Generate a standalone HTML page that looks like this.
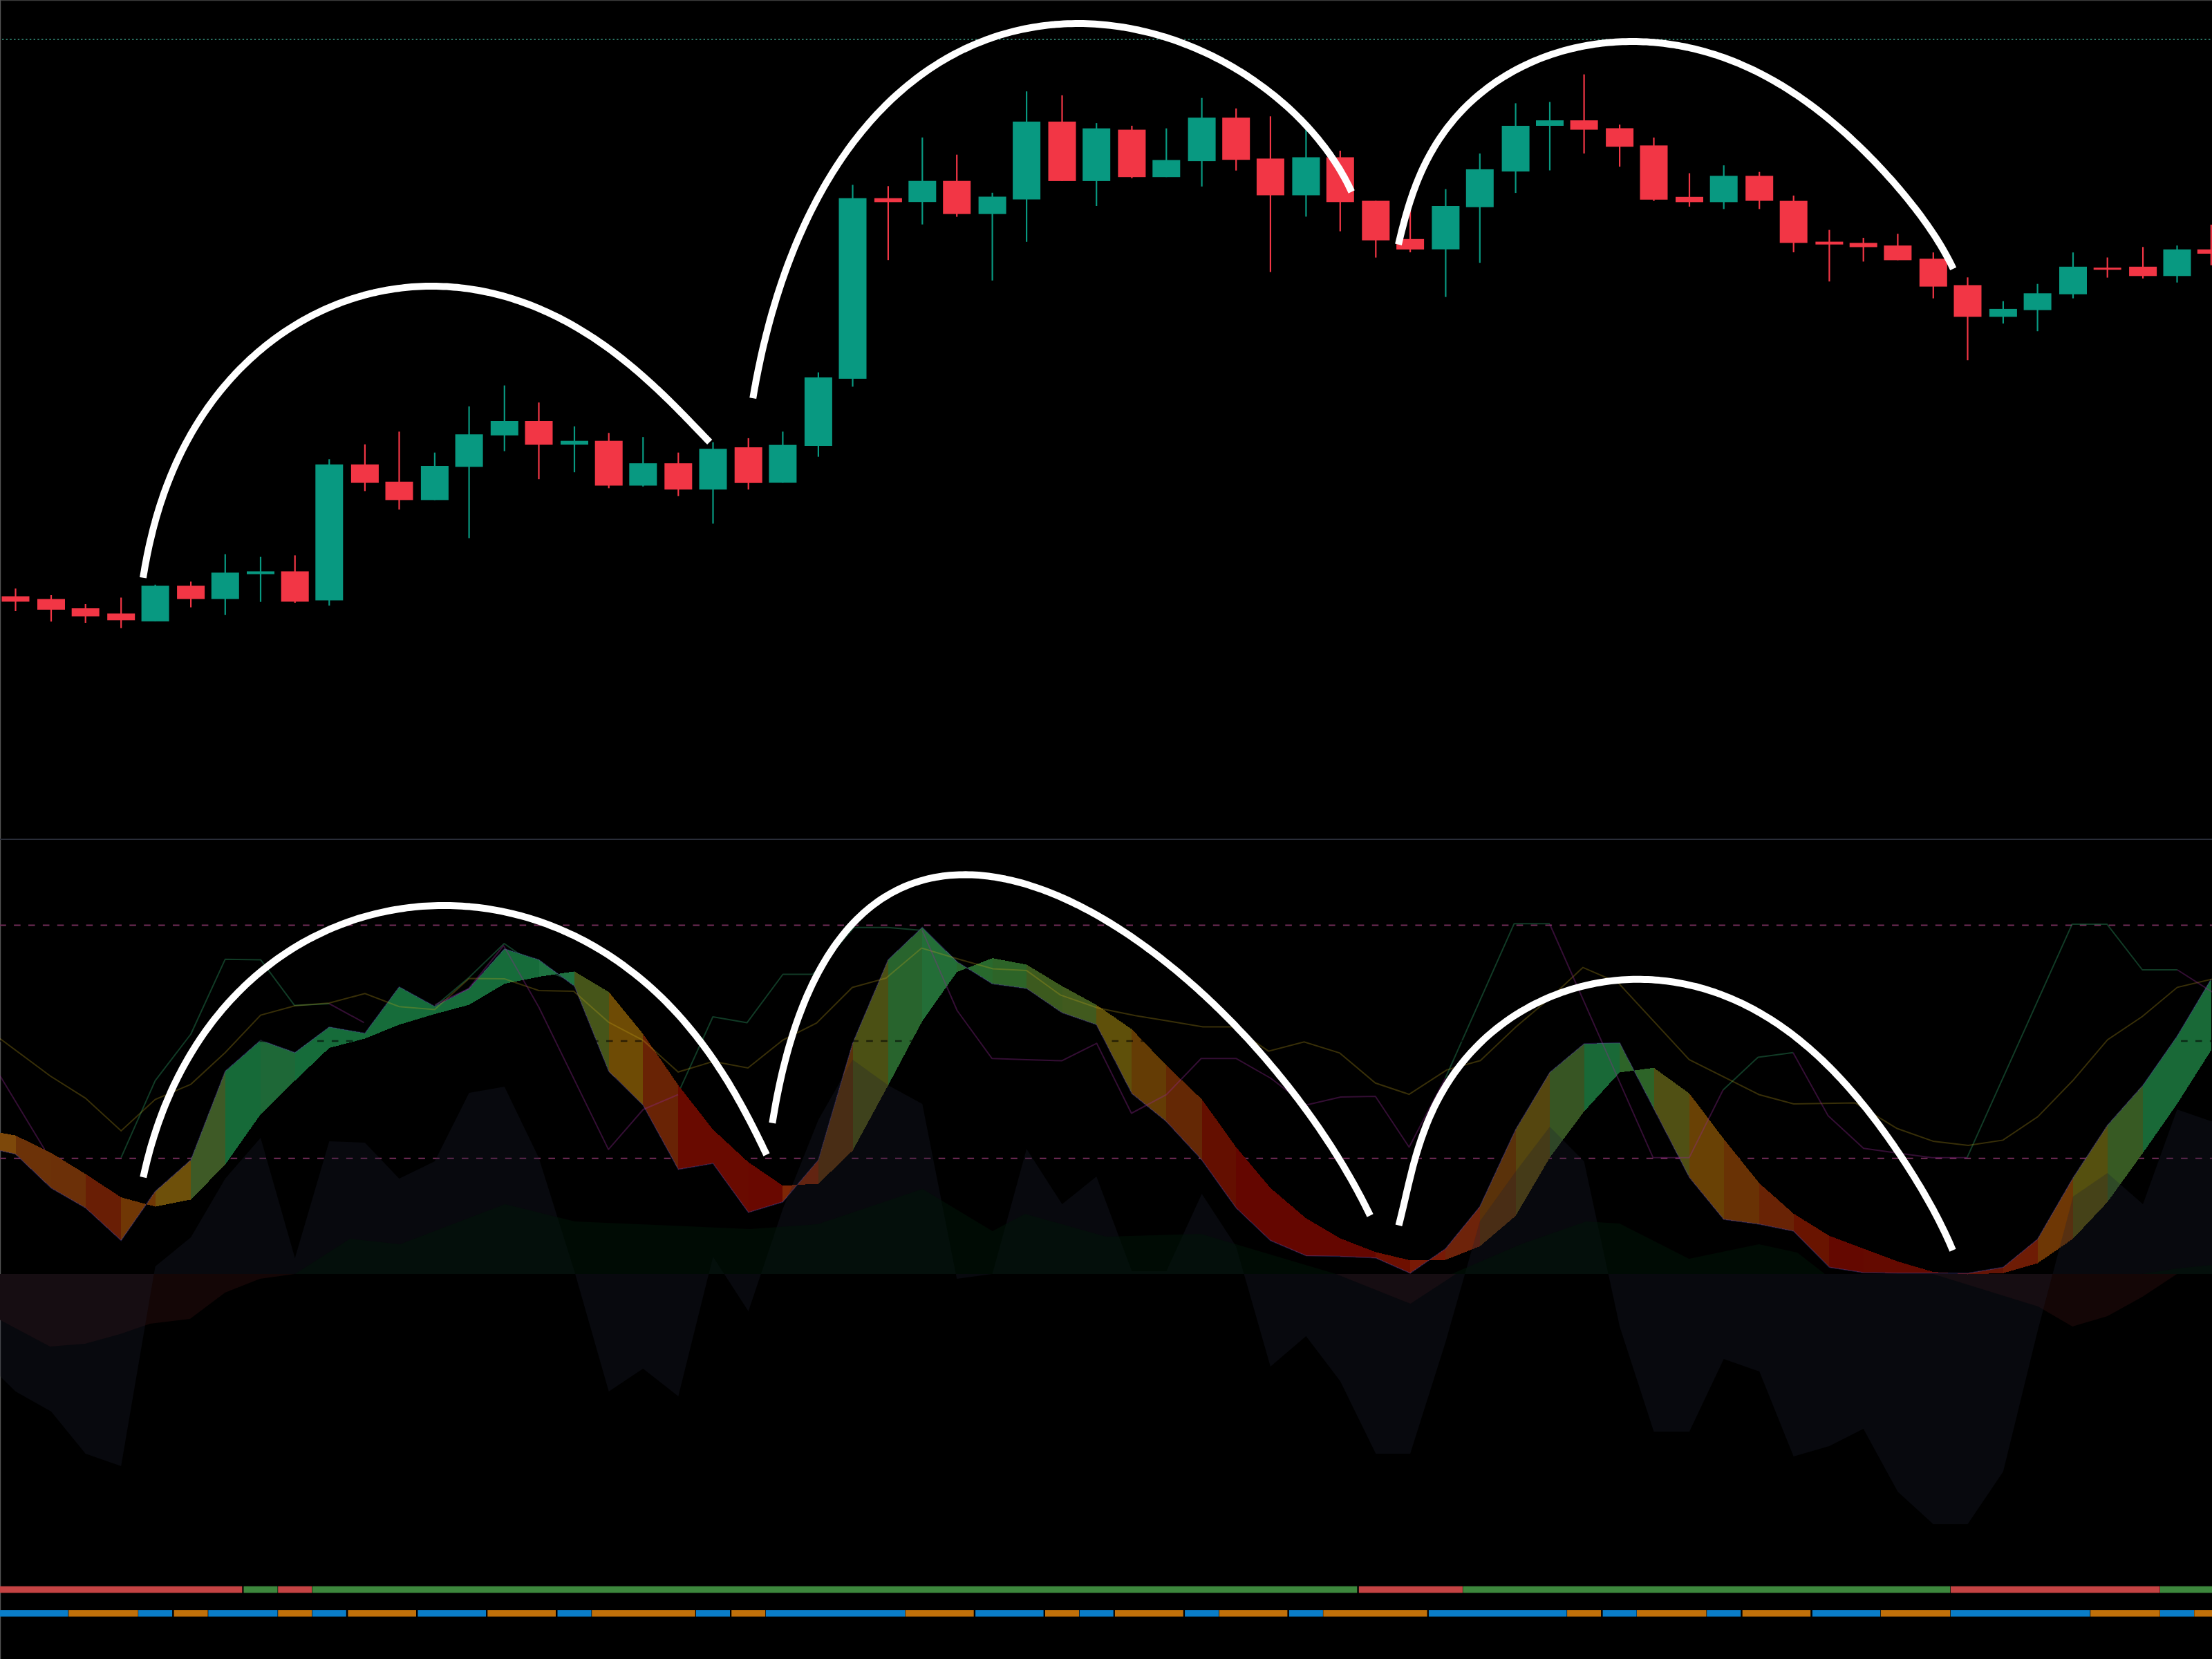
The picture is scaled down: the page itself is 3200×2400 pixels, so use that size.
<!DOCTYPE html>
<html><head><meta charset="utf-8"><title>Chart</title>
<style>html,body{margin:0;padding:0;background:#000;width:3200px;height:2400px;overflow:hidden}svg{display:block}</style>
</head><body>
<svg xmlns="http://www.w3.org/2000/svg" width="3200" height="2400" viewBox="0 0 3200 2400">
<rect width="3200" height="2400" fill="#000"/>
<rect x="0" y="0" width="3200" height="1.2" fill="#3c3c3c"/>
<rect x="0" y="0" width="1.2" height="2400" fill="#555"/>
<line x1="3" y1="57" x2="3200" y2="57" stroke="#2a7262" stroke-width="2.2" stroke-dasharray="2.4 3.3"/>
<g fill="#089981"><rect x="223.5" y="845.8" width="2.2" height="53.1"/><rect x="204.6" y="847.4" width="40" height="51.5"/><rect x="324.7" y="801.8" width="2.2" height="87.9"/><rect x="305.8" y="828.4" width="40" height="38.2"/><rect x="375.9" y="805.6" width="2.2" height="65.1"/><rect x="357" y="826.5" width="40" height="4.1"/><rect x="475.2" y="664.3" width="2.2" height="211.8"/><rect x="456.3" y="671.9" width="40" height="196.6"/><rect x="627.8" y="654.7" width="2.2" height="68.7"/><rect x="608.9" y="674" width="40" height="49.4"/><rect x="677.5" y="587.9" width="2.2" height="190.6"/><rect x="658.6" y="628.3" width="40" height="47.1"/><rect x="728.7" y="557.6" width="2.2" height="95.1"/><rect x="709.8" y="609" width="40" height="20.9"/><rect x="829.9" y="616.8" width="2.2" height="66.4"/><rect x="811" y="637.7" width="40" height="5.6"/><rect x="929.2" y="632.2" width="2.2" height="71.6"/><rect x="910.3" y="670.2" width="40" height="32.3"/><rect x="1030.4" y="639.8" width="2.2" height="117.7"/><rect x="1011.5" y="649.3" width="40" height="58.9"/><rect x="1131.3" y="624.4" width="2.2" height="74"/><rect x="1112.4" y="643.6" width="40" height="54.8"/><rect x="1182.8" y="538.7" width="2.2" height="122"/><rect x="1163.9" y="546" width="40" height="99"/><rect x="1232.4" y="267.4" width="2.2" height="292"/><rect x="1213.5" y="286.7" width="40" height="261.2"/><rect x="1333.2" y="198.9" width="2.2" height="125.8"/><rect x="1314.3" y="261.7" width="40" height="30.5"/><rect x="1434.5" y="278.8" width="2.2" height="127"/><rect x="1415.6" y="284.5" width="40" height="25.1"/><rect x="1484" y="132.2" width="2.2" height="217.6"/><rect x="1465.1" y="175.9" width="40" height="112.6"/><rect x="1585.1" y="178.1" width="2.2" height="119.9"/><rect x="1566.2" y="185.7" width="40" height="76.2"/><rect x="1686.2" y="185.7" width="2.2" height="70.5"/><rect x="1667.3" y="231.5" width="40" height="24.7"/><rect x="1737.5" y="141.7" width="2.2" height="128.1"/><rect x="1718.6" y="170.2" width="40" height="62.9"/><rect x="1888.3" y="187.6" width="2.2" height="125.8"/><rect x="1869.4" y="227.5" width="40" height="55"/><rect x="2090.3" y="273.6" width="2.2" height="156"/><rect x="2071.4" y="298" width="40" height="62.7"/><rect x="2139.7" y="222.1" width="2.2" height="158.1"/><rect x="2120.8" y="244.9" width="40" height="54.8"/><rect x="2191.5" y="149.4" width="2.2" height="129.7"/><rect x="2172.6" y="182" width="40" height="66.1"/><rect x="2240.9" y="147.5" width="2.2" height="99"/><rect x="2222" y="174.1" width="40" height="7.9"/><rect x="2492.6" y="239.2" width="2.2" height="63.2"/><rect x="2473.7" y="254.4" width="40" height="38"/><rect x="2896.8" y="435.7" width="2.2" height="32.3"/><rect x="2877.9" y="446.9" width="40" height="11.4"/><rect x="2946.5" y="410.7" width="2.2" height="68.5"/><rect x="2927.6" y="424.3" width="40" height="24.3"/><rect x="2997.9" y="365.2" width="2.2" height="66.4"/><rect x="2979" y="385.8" width="40" height="39.9"/><rect x="3148.4" y="355.2" width="2.2" height="53.5"/><rect x="3129.5" y="360.8" width="40" height="38.5"/></g>
<g fill="#F23645"><rect x="21.4" y="851.4" width="2.2" height="32.6"/><rect x="2.5" y="862.6" width="40" height="7.8"/><rect x="72.9" y="861" width="2.2" height="38.2"/><rect x="54" y="866.6" width="40" height="15.4"/><rect x="122.6" y="874" width="2.2" height="27"/><rect x="103.7" y="880" width="40" height="11.6"/><rect x="174.1" y="864.5" width="2.2" height="44.2"/><rect x="155.2" y="887.5" width="40" height="9.8"/><rect x="275" y="841.4" width="2.2" height="37.2"/><rect x="256.1" y="847.4" width="40" height="19.2"/><rect x="425.6" y="803.4" width="2.2" height="68.6"/><rect x="406.7" y="826.5" width="40" height="43.9"/><rect x="526.8" y="642.9" width="2.2" height="67.5"/><rect x="507.9" y="671.9" width="40" height="26.6"/><rect x="576.4" y="624.4" width="2.2" height="112.8"/><rect x="557.5" y="696.8" width="40" height="26.6"/><rect x="778.4" y="582.3" width="2.2" height="110.9"/><rect x="759.5" y="609" width="40" height="34.4"/><rect x="879.6" y="626.3" width="2.2" height="80"/><rect x="860.7" y="637.7" width="40" height="64.8"/><rect x="980.2" y="654.7" width="2.2" height="63"/><rect x="961.3" y="670.2" width="40" height="38"/><rect x="1081.6" y="633.9" width="2.2" height="74.3"/><rect x="1062.7" y="647.1" width="40" height="51.6"/><rect x="1283.8" y="269.3" width="2.2" height="106.9"/><rect x="1264.9" y="286.7" width="40" height="5.7"/><rect x="1383.1" y="223.7" width="2.2" height="89.9"/><rect x="1364.2" y="261.7" width="40" height="47.9"/><rect x="1535.4" y="137.9" width="2.2" height="124"/><rect x="1516.5" y="175.9" width="40" height="86"/><rect x="1636.3" y="181.9" width="2.2" height="75.9"/><rect x="1617.4" y="187.6" width="40" height="68.6"/><rect x="1787.1" y="156.9" width="2.2" height="89.8"/><rect x="1768.2" y="170.2" width="40" height="61"/><rect x="1836.8" y="168.3" width="2.2" height="225.2"/><rect x="1817.9" y="229.4" width="40" height="53.1"/><rect x="1937.7" y="218" width="2.2" height="116.6"/><rect x="1918.8" y="227.5" width="40" height="64.8"/><rect x="1989.2" y="290.5" width="2.2" height="82.1"/><rect x="1970.3" y="290.5" width="40" height="57.2"/><rect x="2039" y="304.5" width="2.2" height="60.5"/><rect x="2020.1" y="345.8" width="40" height="15.1"/><rect x="2290.5" y="107.6" width="2.2" height="114.5"/><rect x="2271.6" y="174.1" width="40" height="13.5"/><rect x="2342" y="180.3" width="2.2" height="60.8"/><rect x="2323.1" y="185.5" width="40" height="26.8"/><rect x="2391.4" y="199" width="2.2" height="91.7"/><rect x="2372.5" y="210.4" width="40" height="78.4"/><rect x="2442.9" y="250.6" width="2.2" height="48.3"/><rect x="2424" y="284.8" width="40" height="7.6"/><rect x="2544.1" y="248.7" width="2.2" height="53.7"/><rect x="2525.2" y="254.4" width="40" height="36.1"/><rect x="2593.6" y="282.9" width="2.2" height="82.1"/><rect x="2574.7" y="290.6" width="40" height="60.8"/><rect x="2645.3" y="332.6" width="2.2" height="74.6"/><rect x="2626.4" y="349.6" width="40" height="4.1"/><rect x="2694.6" y="344" width="2.2" height="34.4"/><rect x="2675.7" y="351.4" width="40" height="6.1"/><rect x="2744.3" y="338.2" width="2.2" height="38.2"/><rect x="2725.4" y="355.2" width="40" height="21.2"/><rect x="2795.7" y="365.2" width="2.2" height="66.4"/><rect x="2776.8" y="374.3" width="40" height="40.3"/><rect x="2845.4" y="401.3" width="2.2" height="119.9"/><rect x="2826.5" y="412.5" width="40" height="45.8"/><rect x="3047.6" y="372.5" width="2.2" height="29.1"/><rect x="3028.7" y="387.2" width="40" height="3"/><rect x="3099" y="357.3" width="2.2" height="45.5"/><rect x="3080.1" y="385.8" width="40" height="13.5"/><rect x="3197.7" y="325" width="2.2" height="58.7"/><rect x="3178.8" y="360.8" width="40" height="6.2"/></g>
<rect x="0" y="1213.4" width="3200" height="1.6" fill="#2a2e39"/>
<line x1="0" y1="1338.4" x2="3200" y2="1338.4" stroke="#722c58" stroke-width="2" stroke-dasharray="9.6 11.3" stroke-dashoffset="0.8"/>
<line x1="0" y1="1675.8" x2="3200" y2="1675.8" stroke="#722c58" stroke-width="2" stroke-dasharray="9.6 11.3" stroke-dashoffset="0.8"/>
<polygon points="0,1843 0,1909.5 72.3,1948 123,1944 173.6,1930 217,1915 274.9,1908 325.5,1870 376,1850 426.8,1843 426.8,1843" fill="#140606"/>
<polygon points="1932.7,1843 1932.7,1843 2040.5,1886 2106.3,1843 2106.3,1843" fill="#140606"/>
<polygon points="2796.4,1843 2796.4,1843 2948.3,1890 2998,1919 3048.8,1904 3099.4,1876 3149.4,1843 3149.4,1843" fill="#140606"/>
<polyline points="175.2,1674.7 224.5,1563.3 276.1,1496 325.7,1387.8 377,1388.4 426.2,1454.6 476.4,1452" fill="none" stroke="rgb(40,140,90)" stroke-opacity="0.42" stroke-width="2" stroke-linejoin="round"/>
<polyline points="628.9,1456 678.6,1414 729.4,1365 779.5,1400 829.9,1420 880.3,1500 930.7,1560 983.8,1575.4 1031.3,1471 1080.6,1479.6 1132.6,1409.5 1176,1409.5 1235.6,1341.7 1284.5,1341.7 1334,1346" fill="none" stroke="rgb(40,140,90)" stroke-opacity="0.42" stroke-width="2" stroke-linejoin="round"/>
<polyline points="2090.8,1560 2190.4,1336.3 2242,1336.3" fill="none" stroke="rgb(40,140,90)" stroke-opacity="0.42" stroke-width="2" stroke-linejoin="round"/>
<polyline points="2492.7,1576.8 2543.3,1529.5 2593.9,1522.8" fill="none" stroke="rgb(40,140,90)" stroke-opacity="0.42" stroke-width="2" stroke-linejoin="round"/>
<polyline points="2845.7,1674.7 2997.6,1337.1 3048.2,1337.1 3099.2,1403 3149.8,1403" fill="none" stroke="rgb(40,140,90)" stroke-opacity="0.42" stroke-width="2" stroke-linejoin="round"/>
<g shape-rendering="crispEdges"><polygon points="0,1664.5 22.5,1669.6 22.5,1642.6 0,1638.6" fill="rgb(125,72,10)"/><polygon points="22.5,1669.6 74,1718.6 74,1667.9 22.5,1642.6" fill="rgb(108,50,8)"/><polygon points="74,1718.6 123.7,1747.3 123.7,1698.3 74,1667.9" fill="rgb(108,48,8)"/><polygon points="123.7,1747.3 175.2,1794.5 175.2,1732.1 123.7,1698.3" fill="rgb(105,30,5)"/><polygon points="175.2,1794.5 224.6,1723.6 224.6,1745.6 175.2,1732.1" fill="rgb(112,55,5)"/><polygon points="224.6,1723.6 276.1,1678.1 276.1,1735.4 224.6,1745.6" fill="rgb(110,80,10)"/><polygon points="276.1,1678.1 325.8,1549.8 325.8,1684.8 276.1,1735.4" fill="rgb(62,90,38)"/><polygon points="325.8,1549.8 377,1504.9 377,1612 325.8,1684.8" fill="rgb(22,106,56)"/><polygon points="377,1504.9 426.7,1522.8 426.7,1563.3 377,1612" fill="rgb(30,104,55)"/><polygon points="426.7,1522.8 476.3,1485.7 476.3,1516 426.7,1563.3" fill="rgb(22,108,58)"/><polygon points="476.3,1485.7 527.9,1494.8 527.9,1502.5 476.3,1516" fill="rgb(22,108,58)"/><polygon points="527.9,1494.8 577.5,1427.6 577.5,1482.3 527.9,1502.5" fill="rgb(22,108,58)"/><polygon points="577.5,1427.6 628.9,1456 628.9,1467 577.5,1482.3" fill="rgb(22,108,58)"/><polygon points="628.9,1456 678.6,1430 678.6,1453.6 628.9,1467" fill="rgb(22,108,58)"/><polygon points="678.6,1430 729.8,1372.6 729.8,1423.2 678.6,1453.6" fill="rgb(22,108,58)"/><polygon points="729.8,1372.6 779.5,1388.4 779.5,1413.1 729.8,1423.2" fill="rgb(22,108,58)"/><polygon points="779.5,1388.4 831,1426.6 831,1405.3 779.5,1413.1" fill="rgb(30,115,65)"/><polygon points="831,1426.6 880.7,1549.8 880.7,1435 831,1405.3" fill="rgb(70,85,25)"/><polygon points="880.7,1549.8 930.3,1598.7 930.3,1495.8 880.7,1435" fill="rgb(110,75,5)"/><polygon points="930.3,1598.7 981.3,1691.6 981.3,1570 930.3,1495.8" fill="rgb(105,35,5)"/><polygon points="981.3,1691.6 1031.5,1683.1 1031.5,1634.2 981.3,1570" fill="rgb(105,10,0)"/><polygon points="1031.5,1683.1 1082.7,1754 1082.7,1681.4 1031.5,1634.2" fill="rgb(105,10,0)"/><polygon points="1082.7,1754 1132.4,1738.8 1132.4,1715.2 1082.7,1681.4" fill="rgb(105,8,0)"/><polygon points="1132.4,1738.8 1183.9,1678 1183.9,1712.5 1132.4,1715.2" fill="rgb(125,38,5)"/><polygon points="1183.9,1678 1233.5,1509.3 1233.5,1664.6 1183.9,1712.5" fill="rgb(90,50,10)"/><polygon points="1233.5,1509.3 1284.9,1388.4 1284.9,1570 1233.5,1664.6" fill="rgb(75,80,20)"/><polygon points="1284.9,1388.4 1334.3,1341.5 1334.3,1477.2 1284.9,1570" fill="rgb(40,100,45)"/><polygon points="1334.3,1341.5 1384.2,1391.1 1384.2,1406.3 1334.3,1477.2" fill="rgb(35,110,55)"/><polygon points="1384.2,1391.1 1435.6,1423.2 1435.6,1386.1 1384.2,1406.3" fill="rgb(40,105,45)"/><polygon points="1435.6,1423.2 1485.1,1430 1485.1,1395.5 1435.6,1386.1" fill="rgb(45,100,40)"/><polygon points="1485.1,1430 1536.5,1465 1536.5,1426.6 1485.1,1395.5" fill="rgb(60,90,30)"/><polygon points="1536.5,1465 1586.2,1482.3 1586.2,1453.6 1536.5,1426.6" fill="rgb(65,90,30)"/><polygon points="1586.2,1482.3 1637.4,1581.9 1637.4,1489 1586.2,1453.6" fill="rgb(95,80,10)"/><polygon points="1637.4,1581.9 1687.3,1622.4 1687.3,1541.3 1637.4,1489" fill="rgb(100,60,5)"/><polygon points="1687.3,1622.4 1738.6,1678 1738.6,1590.3 1687.3,1541.3" fill="rgb(100,40,5)"/><polygon points="1738.6,1678 1788.2,1747.3 1788.2,1659.5 1738.6,1590.3" fill="rgb(100,15,0)"/><polygon points="1788.2,1747.3 1837.9,1794.5 1837.9,1718.6 1788.2,1659.5" fill="rgb(100,6,0)"/><polygon points="1837.9,1794.5 1889.4,1816.5 1889.4,1762.4 1837.9,1718.6" fill="rgb(100,6,0)"/><polygon points="1889.4,1816.5 1938.8,1817.5 1938.8,1791.5 1889.4,1762.4" fill="rgb(100,6,0)"/><polygon points="1938.8,1817.5 1990.3,1819.8 1990.3,1811.4 1938.8,1791.5" fill="rgb(100,6,0)"/><polygon points="1990.3,1819.8 2040.1,1841.8 2040.1,1823.2 1990.3,1811.4" fill="rgb(110,15,0)"/><polygon points="2040.1,1841.8 2091.4,1806.3 2091.4,1822.5 2040.1,1823.2" fill="rgb(120,25,5)"/><polygon points="2091.4,1806.3 2140.8,1745.6 2140.8,1803 2091.4,1822.5" fill="rgb(110,35,10)"/><polygon points="2140.8,1745.6 2192.6,1634.2 2192.6,1759 2140.8,1803" fill="rgb(90,50,10)"/><polygon points="2192.6,1634.2 2242,1551.5 2242,1674.7 2192.6,1759" fill="rgb(85,70,15)"/><polygon points="2242,1551.5 2291.6,1510 2291.6,1608 2242,1674.7" fill="rgb(55,85,35)"/><polygon points="2291.6,1510 2343.1,1508.6 2343.1,1551.5 2291.6,1608" fill="rgb(25,105,55)"/><polygon points="2343.1,1508.6 2392.5,1603.8 2392.5,1544.7 2343.1,1551.5" fill="rgb(45,100,40)"/><polygon points="2392.5,1603.8 2444,1703.4 2444,1581.9 2392.5,1544.7" fill="rgb(80,80,20)"/><polygon points="2444,1703.4 2493.7,1764.1 2493.7,1647.7 2444,1581.9" fill="rgb(105,65,5)"/><polygon points="2493.7,1764.1 2545.2,1770.9 2545.2,1711.8 2493.7,1647.7" fill="rgb(105,50,5)"/><polygon points="2545.2,1770.9 2594.7,1781 2594.7,1755.7 2545.2,1711.8" fill="rgb(105,35,5)"/><polygon points="2594.7,1781 2646.4,1833.3 2646.4,1787.8 2594.7,1755.7" fill="rgb(105,20,0)"/><polygon points="2646.4,1833.3 2695.7,1841 2695.7,1806.3 2646.4,1787.8" fill="rgb(100,8,0)"/><polygon points="2695.7,1841 2745.4,1841.8 2745.4,1824.9 2695.7,1806.3" fill="rgb(100,10,0)"/><polygon points="2745.4,1841.8 2796.8,1841.8 2796.8,1840 2745.4,1824.9" fill="rgb(100,10,0)"/><polygon points="2796.8,1841.8 2846.5,1842 2846.5,1843.5 2796.8,1840" fill="rgb(100,10,0)"/><polygon points="2846.5,1842 2897.9,1833.3 2897.9,1841.8 2846.5,1843.5" fill="rgb(100,20,5)"/><polygon points="2897.9,1833.3 2947.6,1792.8 2947.6,1827.5 2897.9,1841.8" fill="rgb(110,28,5)"/><polygon points="2947.6,1792.8 2999,1704 2999,1792 2947.6,1827.5" fill="rgb(110,55,5)"/><polygon points="2999,1704 3048.7,1628 3048.7,1739 2999,1792" fill="rgb(85,80,15)"/><polygon points="3048.7,1628 3100.1,1570 3100.1,1667.9 3048.7,1739" fill="rgb(55,90,35)"/><polygon points="3100.1,1570 3149.5,1499.2 3149.5,1597 3100.1,1667.9" fill="rgb(25,105,55)"/><polygon points="3149.5,1499.2 3198.8,1416.5 3198.8,1519.4 3149.5,1597" fill="rgb(25,105,55)"/></g>
<polyline points="0,1664.5 22.5,1669.6 74,1718.6 123.7,1747.3 175.2,1794.5 224.6,1723.6 276.1,1678.1 325.8,1549.8 377,1504.9 426.7,1522.8 476.3,1485.7 527.9,1494.8 577.5,1427.6 628.9,1456 678.6,1430 729.8,1372.6 779.5,1388.4 831,1426.6 880.7,1549.8 930.3,1598.7 981.3,1691.6 1031.5,1683.1 1082.7,1754 1132.4,1738.8 1183.9,1678 1233.5,1509.3 1284.9,1388.4 1334.3,1341.5 1384.2,1391.1 1435.6,1423.2 1485.1,1430 1536.5,1465 1586.2,1482.3 1637.4,1581.9 1687.3,1622.4 1738.6,1678 1788.2,1747.3 1837.9,1794.5 1889.4,1816.5 1938.8,1817.5 1990.3,1819.8 2040.1,1841.8 2091.4,1806.3 2140.8,1745.6 2192.6,1634.2 2242,1551.5 2291.6,1510 2343.1,1508.6 2392.5,1603.8 2444,1703.4 2493.7,1764.1 2545.2,1770.9 2594.7,1781 2646.4,1833.3 2695.7,1841 2745.4,1841.8 2796.8,1841.8 2846.5,1842 2897.9,1833.3 2947.6,1792.8 2999,1704 3048.7,1628 3100.1,1570 3149.5,1499.2 3198.8,1416.5" fill="none" stroke="rgb(80,70,160)" stroke-opacity="0.4" stroke-width="1.5"/>
<polygon points="0,1843 0,1991 22.5,2013 74,2042 123.7,2103 175.2,2121 224.6,1832 276.1,1790 325.8,1705 377,1646 426.7,1820 476.3,1651 527.9,1653 577.5,1705 628.9,1680 678.6,1581 729.8,1572 779.5,1675 831,1839 880.7,2013 930.3,1980 981.3,2020 1031.5,1818 1082.7,1897 1132.4,1749 1183.9,1620 1233.5,1533 1284.9,1570 1334.3,1597 1384.2,1850 1435.6,1843 1485.1,1662 1536.5,1742 1586.2,1702 1637.4,1839 1687.3,1839 1738.6,1727 1788.2,1803 1837.9,1977 1889.4,1933 1938.8,1998 1990.3,2103 2040.1,2103 2091.4,1941 2140.8,1767 2192.6,1695 2242,1630 2291.6,1680 2343.1,1919 2392.5,2071 2444,2071 2493.7,1966 2545.2,1984 2594.7,2107 2646.4,2092 2695.7,2067 2745.4,2158 2796.8,2205 2846.5,2205 2897.9,2129 2947.6,1926 2999,1731 3048.7,1697 3100.1,1742 3149.5,1605 3198.8,1622 3200,1622 3200,1843" fill="rgb(30,33,50)" fill-opacity="0.28"/>
<polygon points="426.8,1843 426.8,1843 506.3,1792 578.7,1800 730.6,1742 831.8,1767 1085,1778 1182.7,1771 1334.6,1720 1435.8,1781 1482.8,1756 1600,1789 1737.4,1785 1788,1800 1932.7,1843 1932.7,1843" fill="rgb(0,22,8)" fill-opacity="0.5"/>
<polygon points="2100,1843 2100,1843 2200,1800 2294.4,1767 2343,1770 2443.4,1821 2544.7,1800 2600,1812 2640,1843 2640,1843" fill="rgb(0,22,8)" fill-opacity="0.5"/>
<polygon points="3099,1843 3099,1843 3150,1835 3200,1830 3200,1843" fill="rgb(0,22,8)" fill-opacity="0.5"/>
<line x1="0" y1="1506" x2="3200" y2="1506" stroke="#000" stroke-opacity="0.6" stroke-width="2.3" stroke-dasharray="9.6 11.3" stroke-dashoffset="0.8"/>
<polyline points="0,1502.5 72.6,1556.5 123.5,1588.6 175.2,1636 224.5,1590.5 276.1,1568.6 325.8,1522.7 377,1468.6 426.7,1455 476.4,1451 527.9,1437.3 577.5,1456.3 628.9,1460.4 678.6,1415.6 729.8,1416 779.5,1433 829.9,1434 880.2,1478.6 930.5,1505.2 981.1,1550.8 1031.7,1535.6 1082,1545 1132.6,1504.5 1181.4,1480 1233,1428.5 1281.7,1415 1333.3,1371.5 1387.5,1387.8 1436.4,1401.4 1485.2,1404.1 1534,1439.4 1588.3,1458.3 1642.5,1469.2 1691.3,1477.3 1740.2,1485.5 1783.6,1485.5 1835.1,1520.7 1886.6,1507.2 1938.2,1523.4 1989.7,1566.8 2038.5,1583.1 2092.8,1547.9 2141.6,1534.3 2193.1,1485.5 2244.5,1442 2290,1399.6 2340.8,1421.5 2443.7,1532.9 2544.6,1583.5 2594.9,1597 2683.6,1595.4 2744.4,1632.5 2796.7,1651 2847.3,1657.1 2897.6,1649.4 2947.9,1615.6 2998.6,1563.3 3048.9,1504.2 3099.2,1470.5 3149.8,1428.3 3200,1416.5" fill="none" stroke="rgb(200,170,30)" stroke-opacity="0.28" stroke-width="2"/>
<polyline points="0,1556.2 64.6,1663" fill="none" stroke="rgb(150,40,150)" stroke-opacity="0.35" stroke-width="2" stroke-linejoin="round"/>
<polyline points="476.4,1452 526.6,1479.3" fill="none" stroke="rgb(150,40,150)" stroke-opacity="0.35" stroke-width="2" stroke-linejoin="round"/>
<polyline points="629,1453.6 677.8,1430.5 728.5,1368 779.5,1457 880.2,1662.9 930.5,1605 981.1,1583.5" fill="none" stroke="rgb(150,40,150)" stroke-opacity="0.35" stroke-width="2" stroke-linejoin="round"/>
<polyline points="1334,1345.6 1384.7,1462 1435,1531.2 1485.3,1532.9 1536,1534.6 1586.5,1509.3 1636.8,1610.5 1687.4,1583.5 1737.7,1531.2 1788,1531.2 1838.6,1560 1889,1598.7 1939.6,1587 1989.7,1586 2038.5,1659.5 2090.8,1560" fill="none" stroke="rgb(150,40,150)" stroke-opacity="0.35" stroke-width="2" stroke-linejoin="round"/>
<polyline points="2242,1337 2391.4,1674.7 2443.7,1674.7 2492.7,1576.8" fill="none" stroke="rgb(150,40,150)" stroke-opacity="0.35" stroke-width="2" stroke-linejoin="round"/>
<polyline points="2594,1522.8 2644.6,1614 2695.9,1661.2 2744.4,1668 2795,1674.7 2845.7,1674.7" fill="none" stroke="rgb(150,40,150)" stroke-opacity="0.35" stroke-width="2" stroke-linejoin="round"/>
<polyline points="3149.8,1403 3200,1435" fill="none" stroke="rgb(150,40,150)" stroke-opacity="0.35" stroke-width="2" stroke-linejoin="round"/>
<polyline points="207,835.7 207.8,830.8 208.7,825.8 209.5,820.9 210.4,815.9 211.4,810.9 212.3,806 213.3,801 214.4,796 215.4,791 216.5,786.1 217.7,781.1 218.9,776.1 220.1,771.2 221.3,766.2 222.6,761.2 224,756.3 225.3,751.3 226.7,746.4 228.2,741.5 229.7,736.5 231.2,731.6 232.8,726.7 234.5,721.8 236.1,716.9 237.8,712 239.6,707.2 241.4,702.3 243.3,697.5 245.2,692.7 247.1,687.9 249.1,683.1 251.1,678.3 253.2,673.6 255.3,668.8 257.5,664.1 259.7,659.4 262,654.8 264.3,650.1 266.7,645.5 269.1,640.9 271.6,636.4 274.1,631.8 276.6,627.3 279.3,622.8 281.9,618.3 284.6,613.9 287.4,609.5 290.1,605.1 293,600.8 295.9,596.5 298.8,592.2 301.8,588 304.8,583.8 307.9,579.6 311,575.5 314.2,571.4 317.4,567.3 320.7,563.3 324,559.3 327.3,555.4 330.7,551.5 334.1,547.6 337.6,543.8 341.1,540 344.7,536.3 348.3,532.6 352,529 355.7,525.4 359.4,521.8 363.2,518.3 367,514.9 370.8,511.5 374.7,508.1 378.7,504.8 382.6,501.5 386.6,498.3 390.7,495.2 394.8,492.1 398.9,489 403,486 407.2,483.1 411.4,480.2 415.7,477.4 420,474.6 424.3,471.9 428.7,469.2 433.1,466.6 437.5,464 441.9,461.6 446.4,459.1 450.9,456.8 455.4,454.4 460,452.2 464.6,450 469.2,447.9 473.8,445.8 478.5,443.8 483.2,441.8 487.9,440 492.6,438.1 497.4,436.4 502.2,434.7 507,433.1 511.8,431.5 516.6,430 521.5,428.6 526.3,427.2 531.2,425.9 536.1,424.7 541,423.5 546,422.4 550.9,421.4 555.9,420.4 560.8,419.5 565.8,418.7 570.8,417.9 575.8,417.2 580.8,416.6 585.8,416 590.9,415.6 595.9,415.1 600.9,414.8 606,414.5 611,414.3 616.1,414.1 621.2,414 626.2,414 631.3,414.1 636.3,414.2 641.4,414.4 646.5,414.6 651.5,415 656.6,415.4 661.6,415.8 666.7,416.4 671.7,417 676.8,417.6 681.8,418.4 686.8,419.2 691.9,420 696.9,421 701.9,422 706.9,423 711.9,424.2 716.9,425.4 721.8,426.6 726.8,427.9 731.7,429.3 736.6,430.8 741.6,432.3 746.5,433.9 751.4,435.5 756.2,437.2 761.1,439 765.9,440.8 770.8,442.7 775.6,444.6 780.4,446.6 785.1,448.7 789.9,450.8 794.6,453 799.3,455.2 804,457.5 808.7,459.8 813.3,462.2 818,464.7 822.6,467.2 827.1,469.7 831.7,472.3 836.2,475 840.8,477.7 845.2,480.4 849.7,483.2 854.2,486.1 858.6,488.9 863,491.9 867.3,494.8 871.7,497.9 876,500.9 880.3,504 884.5,507.1 888.7,510.3 893,513.5 897.1,516.7 901.3,520 905.4,523.3 909.5,526.6 913.6,530 917.6,533.4 921.6,536.8 925.6,540.2 929.6,543.7 933.5,547.2 937.4,550.7 941.3,554.2 945.1,557.7 949,561.3 952.8,564.8 956.5,568.4 960.3,572 964,575.6 967.7,579.2 971.3,582.8 975,586.4 978.6,590 982.2,593.6 985.7,597.2 989.3,600.8 992.8,604.4 996.3,608 999.7,611.6 1003.2,615.2 1006.6,618.7 1010,622.3 1013.4,625.8 1016.7,629.3 1020.1,632.7 1023.4,636.2 1026.7,639.6" fill="none" stroke="#fff" stroke-width="10" stroke-linecap="butt" stroke-linejoin="round"/>
<polyline points="1089.2,576.2 1090.1,571.2 1090.9,566.2 1091.8,561.2 1092.8,556.1 1093.7,550.9 1094.7,545.7 1095.8,540.5 1096.8,535.2 1097.9,529.9 1099.1,524.5 1100.2,519.1 1101.4,513.7 1102.6,508.2 1103.9,502.7 1105.2,497.2 1106.6,491.7 1107.9,486.1 1109.4,480.5 1110.8,474.9 1112.3,469.2 1113.8,463.6 1115.4,457.9 1117,452.2 1118.7,446.5 1120.4,440.8 1122.1,435.1 1123.8,429.4 1125.7,423.7 1127.5,418 1129.4,412.2 1131.3,406.5 1133.3,400.8 1135.3,395 1137.4,389.3 1139.5,383.6 1141.6,377.9 1143.8,372.2 1146.1,366.5 1148.3,360.8 1150.6,355.1 1153,349.5 1155.4,343.8 1157.9,338.2 1160.4,332.6 1162.9,327 1165.5,321.5 1168.1,315.9 1170.8,310.4 1173.5,304.9 1176.3,299.5 1179.1,294 1181.9,288.6 1184.8,283.2 1187.8,277.9 1190.7,272.6 1193.8,267.3 1196.8,262.1 1200,256.9 1203.1,251.7 1206.3,246.6 1209.6,241.5 1212.9,236.4 1216.2,231.4 1219.6,226.5 1223.1,221.5 1226.5,216.7 1230.1,211.8 1233.6,207.1 1237.2,202.3 1240.9,197.6 1244.6,193 1248.3,188.4 1252.1,183.9 1255.9,179.4 1259.8,175 1263.7,170.6 1267.6,166.3 1271.6,162.1 1275.7,157.9 1279.8,153.7 1283.9,149.7 1288,145.7 1292.2,141.7 1296.5,137.8 1300.8,134 1305.1,130.2 1309.4,126.5 1313.8,122.9 1318.3,119.3 1322.8,115.8 1327.3,112.3 1331.8,108.9 1336.4,105.6 1341,102.4 1345.7,99.2 1350.4,96.1 1355.1,93.1 1359.9,90.1 1364.7,87.2 1369.5,84.4 1374.4,81.7 1379.3,79 1384.2,76.4 1389.2,73.9 1394.2,71.4 1399.2,69.1 1404.3,66.8 1409.4,64.5 1414.5,62.4 1419.7,60.3 1424.8,58.3 1430,56.4 1435.3,54.6 1440.5,52.8 1445.8,51.1 1451.1,49.5 1456.5,48 1461.8,46.5 1467.2,45.2 1472.6,43.9 1478,42.7 1483.5,41.5 1488.9,40.5 1494.4,39.5 1499.9,38.6 1505.4,37.8 1511,37 1516.5,36.4 1522.1,35.8 1527.7,35.3 1533.3,34.9 1538.9,34.6 1544.5,34.3 1550.1,34.2 1555.8,34.1 1561.4,34.1 1567.1,34.1 1572.7,34.3 1578.4,34.5 1584.1,34.8 1589.8,35.2 1595.5,35.7 1601.2,36.2 1606.9,36.9 1612.6,37.6 1618.3,38.4 1624,39.2 1629.7,40.2 1635.3,41.2 1641,42.3 1646.7,43.5 1652.4,44.8 1658.1,46.1 1663.7,47.5 1669.4,49 1675,50.6 1680.7,52.2 1686.3,53.9 1691.9,55.7 1697.5,57.6 1703.1,59.5 1708.6,61.6 1714.2,63.7 1719.7,65.8 1725.2,68.1 1730.7,70.4 1736.2,72.8 1741.6,75.2 1747,77.7 1752.4,80.3 1757.7,83 1763.1,85.7 1768.4,88.5 1773.6,91.4 1778.9,94.3 1784.1,97.3 1789.2,100.4 1794.4,103.5 1799.5,106.7 1804.5,110 1809.5,113.3 1814.5,116.7 1819.4,120.2 1824.3,123.7 1829.1,127.2 1833.9,130.9 1838.6,134.6 1843.3,138.3 1848,142.1 1852.5,146 1857.1,149.9 1861.5,153.8 1866,157.8 1870.3,161.9 1874.6,166 1878.8,170.2 1883,174.4 1887.1,178.7 1891.1,183 1895.1,187.4 1899,191.8 1902.8,196.2 1906.6,200.7 1910.2,205.3 1913.8,209.8 1917.4,214.4 1920.8,219.1 1924.2,223.8 1927.4,228.5 1930.6,233.3 1933.7,238.1 1936.8,242.9 1939.7,247.8 1942.5,252.7 1945.3,257.6 1947.9,262.5 1950.5,267.5 1952.9,272.5 1955.3,277.5" fill="none" stroke="#fff" stroke-width="10" stroke-linecap="butt" stroke-linejoin="round"/>
<polyline points="2023,353.7 2024.2,348.8 2025.4,343.8 2026.6,338.9 2027.8,334 2029.1,329.1 2030.4,324.2 2031.7,319.3 2033,314.5 2034.4,309.7 2035.8,304.8 2037.2,300 2038.7,295.3 2040.2,290.5 2041.8,285.8 2043.4,281 2045,276.4 2046.8,271.7 2048.5,267.1 2050.3,262.5 2052.2,257.9 2054.1,253.4 2056.1,248.8 2058.1,244.4 2060.2,239.9 2062.4,235.5 2064.6,231.1 2066.9,226.8 2069.2,222.5 2071.7,218.3 2074.1,214 2076.6,209.9 2079.2,205.7 2081.9,201.6 2084.6,197.6 2087.4,193.6 2090.2,189.7 2093.1,185.7 2096.1,181.9 2099.2,178.1 2102.2,174.3 2105.4,170.6 2108.6,166.9 2111.9,163.3 2115.2,159.8 2118.6,156.3 2122.1,152.8 2125.6,149.4 2129.2,146.1 2132.8,142.8 2136.5,139.6 2140.3,136.4 2144.1,133.3 2147.9,130.3 2151.8,127.3 2155.8,124.4 2159.8,121.5 2163.8,118.7 2167.9,115.9 2172.1,113.3 2176.3,110.6 2180.5,108.1 2184.8,105.6 2189.1,103.1 2193.5,100.8 2197.9,98.5 2202.3,96.2 2206.8,94.1 2211.3,92 2215.9,89.9 2220.5,87.9 2225.1,86 2229.7,84.2 2234.4,82.4 2239.1,80.7 2243.8,79.1 2248.6,77.5 2253.4,76 2258.2,74.5 2263,73.2 2267.9,71.9 2272.7,70.6 2277.6,69.5 2282.5,68.4 2287.4,67.4 2292.4,66.4 2297.3,65.5 2302.3,64.7 2307.2,63.9 2312.2,63.2 2317.2,62.6 2322.2,62.1 2327.2,61.6 2332.2,61.2 2337.2,60.8 2342.2,60.5 2347.2,60.3 2352.2,60.2 2357.2,60.1 2362.2,60.1 2367.2,60.1 2372.2,60.2 2377.2,60.4 2382.2,60.6 2387.2,61 2392.1,61.3 2397.1,61.8 2402.1,62.3 2407,62.8 2411.9,63.5 2416.9,64.2 2421.8,64.9 2426.7,65.7 2431.5,66.6 2436.4,67.5 2441.3,68.5 2446.1,69.6 2450.9,70.7 2455.7,71.9 2460.5,73.1 2465.3,74.4 2470,75.8 2474.8,77.2 2479.5,78.6 2484.2,80.1 2488.8,81.7 2493.5,83.3 2498.1,85 2502.7,86.7 2507.3,88.5 2511.9,90.4 2516.4,92.2 2520.9,94.2 2525.4,96.2 2529.9,98.2 2534.3,100.3 2538.8,102.4 2543.2,104.6 2547.6,106.8 2551.9,109.1 2556.2,111.4 2560.6,113.8 2564.8,116.2 2569.1,118.6 2573.3,121.1 2577.6,123.6 2581.8,126.2 2585.9,128.8 2590.1,131.5 2594.2,134.2 2598.3,136.9 2602.4,139.7 2606.4,142.5 2610.5,145.3 2614.5,148.2 2618.5,151.1 2622.4,154 2626.4,157 2630.3,160 2634.2,163.1 2638.1,166.1 2641.9,169.2 2645.8,172.4 2649.6,175.5 2653.4,178.7 2657.2,182 2660.9,185.2 2664.7,188.5 2668.4,191.8 2672.1,195.1 2675.7,198.5 2679.4,201.9 2683,205.3 2686.6,208.7 2690.2,212.1 2693.8,215.6 2697.4,219.1 2700.9,222.6 2704.4,226.2 2707.9,229.7 2711.4,233.3 2714.9,236.9 2718.3,240.6 2721.7,244.2 2725.1,247.9 2728.5,251.6 2731.8,255.3 2735.2,259 2738.5,262.7 2741.8,266.5 2745,270.3 2748.3,274.1 2751.5,277.9 2754.7,281.7 2757.9,285.6 2761,289.5 2764.1,293.4 2767.2,297.3 2770.3,301.2 2773.3,305.1 2776.3,309.1 2779.3,313.1 2782.2,317.1 2785.1,321.1 2788,325.2 2790.8,329.3 2793.6,333.4 2796.4,337.5 2799.1,341.6 2801.8,345.8 2804.4,350 2807,354.2 2809.5,358.4 2812,362.7 2814.4,366.9 2816.8,371.3 2819.1,375.6 2821.4,380 2823.6,384.4 2825.7,388.8" fill="none" stroke="#fff" stroke-width="10" stroke-linecap="butt" stroke-linejoin="round"/>
<polyline points="207.2,1703.2 208.4,1697.9 209.6,1692.5 210.9,1687.1 212.2,1681.8 213.5,1676.4 215,1671 216.4,1665.5 217.9,1660.1 219.5,1654.7 221.2,1649.2 222.8,1643.8 224.6,1638.4 226.4,1632.9 228.2,1627.5 230.1,1622.1 232.1,1616.7 234.1,1611.2 236.2,1605.8 238.3,1600.4 240.5,1595.1 242.8,1589.7 245.1,1584.4 247.4,1579 249.9,1573.7 252.3,1568.4 254.9,1563.2 257.5,1557.9 260.2,1552.7 262.9,1547.5 265.7,1542.4 268.5,1537.3 271.4,1532.2 274.4,1527.1 277.4,1522.1 280.5,1517.1 283.6,1512.1 286.8,1507.2 290,1502.3 293.3,1497.5 296.7,1492.7 300.1,1487.9 303.6,1483.2 307.1,1478.5 310.7,1473.9 314.4,1469.4 318.1,1464.8 321.8,1460.3 325.7,1455.9 329.5,1451.5 333.5,1447.2 337.4,1443 341.5,1438.7 345.5,1434.6 349.7,1430.5 353.8,1426.4 358.1,1422.4 362.4,1418.5 366.7,1414.6 371.1,1410.8 375.5,1407.1 380,1403.4 384.5,1399.8 389.1,1396.2 393.7,1392.7 398.3,1389.3 403,1385.9 407.8,1382.6 412.6,1379.4 417.4,1376.2 422.3,1373.1 427.2,1370.1 432.1,1367.1 437.1,1364.2 442.1,1361.4 447.2,1358.7 452.3,1356 457.4,1353.4 462.6,1350.9 467.8,1348.4 473,1346 478.3,1343.7 483.5,1341.5 488.9,1339.3 494.2,1337.2 499.6,1335.2 505,1333.3 510.4,1331.4 515.8,1329.6 521.3,1327.9 526.8,1326.3 532.3,1324.7 537.8,1323.2 543.4,1321.8 549,1320.5 554.5,1319.3 560.1,1318.1 565.8,1317 571.4,1316 577,1315.1 582.7,1314.2 588.4,1313.4 594.1,1312.7 599.7,1312.1 605.4,1311.6 611.1,1311.1 616.8,1310.7 622.6,1310.4 628.3,1310.2 634,1310 639.7,1309.9 645.4,1310 651.2,1310 656.9,1310.2 662.6,1310.4 668.3,1310.8 674,1311.2 679.7,1311.6 685.4,1312.2 691.1,1312.8 696.8,1313.5 702.5,1314.3 708.2,1315.1 713.8,1316.1 719.5,1317.1 725.1,1318.2 730.7,1319.3 736.3,1320.6 741.9,1321.9 747.5,1323.3 753,1324.7 758.5,1326.2 764,1327.8 769.5,1329.5 775,1331.3 780.5,1333.1 785.9,1335 791.3,1336.9 796.7,1339 802,1341.1 807.3,1343.2 812.6,1345.5 817.9,1347.8 823.1,1350.2 828.4,1352.6 833.5,1355.1 838.7,1357.7 843.8,1360.3 848.9,1363 854,1365.8 859,1368.7 864,1371.6 868.9,1374.5 873.8,1377.5 878.7,1380.6 883.6,1383.8 888.4,1387 893.1,1390.2 897.9,1393.6 902.6,1396.9 907.2,1400.4 911.8,1403.9 916.4,1407.4 920.9,1411 925.4,1414.7 929.9,1418.4 934.3,1422.1 938.7,1425.9 943,1429.8 947.3,1433.7 951.5,1437.7 955.7,1441.7 959.9,1445.7 964,1449.8 968,1454 972.1,1458.2 976,1462.4 980,1466.7 983.9,1471 987.7,1475.3 991.5,1479.7 995.3,1484.2 999,1488.7 1002.7,1493.2 1006.3,1497.7 1009.9,1502.3 1013.4,1506.9 1016.9,1511.5 1020.4,1516.2 1023.8,1520.9 1027.2,1525.7 1030.5,1530.4 1033.8,1535.2 1037,1540 1040.2,1544.9 1043.4,1549.7 1046.5,1554.6 1049.6,1559.5 1052.7,1564.4 1055.7,1569.4 1058.6,1574.4 1061.6,1579.3 1064.5,1584.3 1067.3,1589.4 1070.2,1594.4 1072.9,1599.4 1075.7,1604.5 1078.4,1609.5 1081.1,1614.6 1083.8,1619.7 1086.4,1624.7 1089,1629.8 1091.6,1634.9 1094.2,1640 1096.7,1645.1 1099.2,1650.2 1101.7,1655.3 1104.1,1660.4 1106.6,1665.4 1109,1670.5" fill="none" stroke="#fff" stroke-width="10" stroke-linecap="butt" stroke-linejoin="round"/>
<polyline points="1117.3,1624.6 1118.9,1615.2 1120.5,1605.9 1122.1,1596.8 1123.8,1587.8 1125.6,1578.9 1127.4,1570.2 1129.3,1561.6 1131.2,1553.2 1133.2,1544.9 1135.3,1536.8 1137.4,1528.7 1139.5,1520.9 1141.7,1513.1 1144,1505.5 1146.3,1498 1148.6,1490.7 1151,1483.5 1153.5,1476.4 1156,1469.4 1158.6,1462.6 1161.2,1455.9 1163.8,1449.4 1166.5,1442.9 1169.3,1436.6 1172.1,1430.5 1174.9,1424.4 1177.8,1418.5 1180.7,1412.7 1183.7,1407 1186.7,1401.5 1189.8,1396 1192.9,1390.7 1196,1385.5 1199.2,1380.5 1202.5,1375.5 1205.7,1370.7 1209,1366 1212.4,1361.4 1215.8,1356.9 1219.2,1352.6 1222.7,1348.3 1226.2,1344.2 1229.8,1340.2 1233.3,1336.3 1237,1332.5 1240.6,1328.8 1244.3,1325.3 1248,1321.8 1251.8,1318.5 1255.6,1315.3 1259.4,1312.1 1263.3,1309.1 1267.2,1306.2 1271.1,1303.4 1275.1,1300.7 1279.1,1298.1 1283.1,1295.7 1287.2,1293.3 1291.3,1291 1295.4,1288.8 1299.5,1286.7 1303.7,1284.8 1307.9,1282.9 1312.1,1281.1 1316.4,1279.4 1320.6,1277.9 1324.9,1276.4 1329.3,1275 1333.6,1273.7 1338,1272.5 1342.4,1271.4 1346.8,1270.4 1351.3,1269.5 1355.7,1268.7 1360.2,1268 1364.7,1267.3 1369.3,1266.8 1373.8,1266.3 1378.4,1265.9 1383,1265.7 1387.6,1265.5 1392.2,1265.4 1396.9,1265.3 1401.6,1265.4 1406.2,1265.5 1410.9,1265.8 1415.7,1266.1 1420.4,1266.5 1425.1,1267 1429.9,1267.5 1434.7,1268.2 1439.5,1268.9 1444.2,1269.7 1449.1,1270.6 1453.9,1271.5 1458.7,1272.6 1463.6,1273.7 1468.4,1274.8 1473.3,1276.1 1478.2,1277.4 1483,1278.8 1487.9,1280.3 1492.8,1281.9 1497.7,1283.5 1502.7,1285.2 1507.6,1286.9 1512.5,1288.7 1517.4,1290.6 1522.4,1292.6 1527.3,1294.6 1532.3,1296.7 1537.2,1298.9 1542.2,1301.1 1547.1,1303.4 1552.1,1305.8 1557,1308.2 1562,1310.6 1567,1313.2 1571.9,1315.8 1576.9,1318.4 1581.8,1321.2 1586.8,1323.9 1591.7,1326.8 1596.7,1329.7 1601.6,1332.6 1606.6,1335.6 1611.5,1338.7 1616.5,1341.8 1621.4,1344.9 1626.3,1348.1 1631.2,1351.4 1636.1,1354.7 1641,1358.1 1645.9,1361.5 1650.8,1365 1655.7,1368.5 1660.6,1372.1 1665.5,1375.7 1670.3,1379.3 1675.1,1383 1680,1386.8 1684.8,1390.6 1689.6,1394.4 1694.4,1398.3 1699.2,1402.2 1704,1406.1 1708.7,1410.1 1713.4,1414.2 1718.2,1418.3 1722.9,1422.4 1727.6,1426.5 1732.3,1430.7 1736.9,1435 1741.6,1439.2 1746.2,1443.5 1750.8,1447.8 1755.4,1452.2 1759.9,1456.6 1764.5,1461 1769,1465.5 1773.5,1470 1778,1474.5 1782.5,1479.1 1786.9,1483.6 1791.3,1488.3 1795.7,1492.9 1800.1,1497.5 1804.5,1502.2 1808.8,1506.9 1813.1,1511.7 1817.3,1516.4 1821.6,1521.2 1825.8,1526 1830,1530.8 1834.2,1535.7 1838.3,1540.6 1842.4,1545.4 1846.5,1550.3 1850.5,1555.3 1854.5,1560.2 1858.5,1565.2 1862.5,1570.1 1866.4,1575.1 1870.3,1580.1 1874.1,1585.1 1878,1590.1 1881.7,1595.2 1885.5,1600.2 1889.2,1605.3 1892.9,1610.4 1896.5,1615.4 1900.2,1620.5 1903.7,1625.6 1907.3,1630.7 1910.8,1635.8 1914.2,1640.9 1917.7,1646.1 1921,1651.2 1924.4,1656.3 1927.7,1661.4 1930.9,1666.6 1934.2,1671.7 1937.3,1676.8 1940.5,1682 1943.6,1687.1 1946.6,1692.2 1949.6,1697.4 1952.6,1702.5 1955.5,1707.6 1958.4,1712.7 1961.2,1717.8 1964,1723 1966.7,1728.1 1969.4,1733.1 1972,1738.2 1974.6,1743.3 1977.2,1748.4 1979.7,1753.4 1982.1,1758.5" fill="none" stroke="#fff" stroke-width="10" stroke-linecap="butt" stroke-linejoin="round"/>
<polyline points="2023.5,1772.7 2024.9,1767.3 2026.2,1762 2027.5,1756.6 2028.8,1751.2 2030.1,1745.9 2031.3,1740.6 2032.6,1735.2 2033.8,1729.9 2035,1724.6 2036.3,1719.3 2037.5,1714 2038.8,1708.8 2040.1,1703.5 2041.4,1698.2 2042.7,1693 2044,1687.8 2045.4,1682.6 2046.9,1677.4 2048.3,1672.2 2049.9,1667.1 2051.4,1662 2053,1656.9 2054.7,1651.8 2056.4,1646.7 2058.2,1641.7 2060,1636.7 2061.9,1631.7 2063.8,1626.7 2065.8,1621.8 2067.9,1616.9 2070.1,1612 2072.3,1607.2 2074.5,1602.3 2076.9,1597.6 2079.3,1592.8 2081.8,1588.1 2084.3,1583.5 2087,1578.9 2089.7,1574.3 2092.4,1569.7 2095.3,1565.2 2098.2,1560.8 2101.2,1556.4 2104.2,1552 2107.4,1547.7 2110.6,1543.5 2113.8,1539.3 2117.2,1535.1 2120.6,1531 2124.1,1527 2127.6,1523 2131.3,1519.1 2135,1515.2 2138.7,1511.4 2142.6,1507.6 2146.4,1503.9 2150.4,1500.3 2154.4,1496.8 2158.5,1493.3 2162.7,1489.8 2166.9,1486.5 2171.1,1483.2 2175.5,1480 2179.8,1476.8 2184.3,1473.7 2188.8,1470.7 2193.3,1467.8 2197.9,1464.9 2202.6,1462.2 2207.3,1459.5 2212,1456.8 2216.8,1454.3 2221.6,1451.8 2226.5,1449.4 2231.4,1447.1 2236.3,1444.9 2241.3,1442.7 2246.3,1440.6 2251.4,1438.7 2256.5,1436.8 2261.6,1434.9 2266.8,1433.2 2271.9,1431.6 2277.1,1430 2282.4,1428.5 2287.6,1427.1 2292.9,1425.8 2298.2,1424.6 2303.5,1423.5 2308.8,1422.4 2314.2,1421.5 2319.5,1420.6 2324.9,1419.8 2330.2,1419.1 2335.6,1418.5 2341,1418 2346.4,1417.6 2351.8,1417.3 2357.2,1417 2362.6,1416.8 2368,1416.8 2373.4,1416.8 2378.8,1416.9 2384.2,1417.1 2389.6,1417.3 2394.9,1417.7 2400.3,1418.1 2405.7,1418.7 2411,1419.3 2416.3,1420 2421.7,1420.8 2427,1421.7 2432.2,1422.6 2437.5,1423.6 2442.8,1424.8 2448,1426 2453.2,1427.2 2458.4,1428.6 2463.6,1430 2468.7,1431.6 2473.8,1433.2 2478.9,1434.8 2484,1436.6 2489,1438.4 2494,1440.3 2499,1442.3 2504,1444.4 2508.9,1446.5 2513.8,1448.7 2518.7,1450.9 2523.5,1453.3 2528.3,1455.7 2533.1,1458.1 2537.8,1460.7 2542.5,1463.3 2547.2,1465.9 2551.8,1468.7 2556.4,1471.5 2561,1474.3 2565.5,1477.2 2570,1480.2 2574.5,1483.2 2578.9,1486.3 2583.3,1489.4 2587.7,1492.6 2592,1495.8 2596.3,1499.1 2600.5,1502.5 2604.7,1505.8 2608.9,1509.3 2613.1,1512.8 2617.2,1516.3 2621.2,1519.9 2625.3,1523.5 2629.3,1527.1 2633.3,1530.8 2637.2,1534.5 2641.1,1538.3 2644.9,1542.1 2648.8,1545.9 2652.6,1549.8 2656.3,1553.7 2660.1,1557.7 2663.8,1561.6 2667.4,1565.6 2671.1,1569.6 2674.7,1573.7 2678.2,1577.8 2681.8,1581.9 2685.3,1586 2688.8,1590.1 2692.2,1594.3 2695.6,1598.5 2699,1602.7 2702.4,1606.9 2705.7,1611.2 2709,1615.4 2712.3,1619.7 2715.6,1624 2718.8,1628.3 2722,1632.7 2725.2,1637 2728.3,1641.4 2731.4,1645.7 2734.5,1650.1 2737.6,1654.5 2740.7,1658.9 2743.7,1663.4 2746.7,1667.8 2749.7,1672.2 2752.6,1676.7 2755.6,1681.2 2758.5,1685.7 2761.3,1690.2 2764.2,1694.7 2767,1699.2 2769.9,1703.7 2772.6,1708.3 2775.4,1712.8 2778.2,1717.4 2780.9,1722 2783.6,1726.6 2786.2,1731.2 2788.9,1735.9 2791.5,1740.6 2794.1,1745.2 2796.7,1749.9 2799.2,1754.7 2801.7,1759.4 2804.2,1764.2 2806.6,1769 2809,1773.9 2811.4,1778.7 2813.8,1783.7 2816.1,1788.6 2818.4,1793.6 2820.6,1798.6 2822.8,1803.7 2825,1808.8" fill="none" stroke="#fff" stroke-width="10" stroke-linecap="butt" stroke-linejoin="round"/>
<rect x="0" y="2294.8" width="350.3" height="9.5" fill="#c44343"/><rect x="352.5" y="2294.8" width="49" height="9.5" fill="#3d873d"/><rect x="402.2" y="2294.8" width="49" height="9.5" fill="#c44343"/><rect x="451.8" y="2294.8" width="1511.5" height="9.5" fill="#3d873d"/><rect x="1965.8" y="2294.8" width="150.1" height="9.5" fill="#c44343"/><rect x="2116.3" y="2294.8" width="705" height="9.5" fill="#3d873d"/><rect x="2822" y="2294.8" width="302.6" height="9.5" fill="#c44343"/><rect x="3125" y="2294.8" width="75" height="9.5" fill="#3d873d"/>
<rect x="0" y="2329.1" width="98.5" height="9.5" fill="#0a7dc8"/><rect x="99.2" y="2329.1" width="100.5" height="9.5" fill="#c0700a"/><rect x="200.1" y="2329.1" width="49" height="9.5" fill="#0a7dc8"/><rect x="251.6" y="2329.1" width="49" height="9.5" fill="#c0700a"/><rect x="301.3" y="2329.1" width="100.2" height="9.5" fill="#0a7dc8"/><rect x="402.2" y="2329.1" width="49" height="9.5" fill="#c0700a"/><rect x="451.8" y="2329.1" width="49" height="9.5" fill="#0a7dc8"/><rect x="503.4" y="2329.1" width="98.6" height="9.5" fill="#c0700a"/><rect x="604.4" y="2329.1" width="98.7" height="9.5" fill="#0a7dc8"/><rect x="705.3" y="2329.1" width="98.7" height="9.5" fill="#c0700a"/><rect x="806.5" y="2329.1" width="49" height="9.5" fill="#0a7dc8"/><rect x="856.2" y="2329.1" width="149.6" height="9.5" fill="#c0700a"/><rect x="1007" y="2329.1" width="49" height="9.5" fill="#0a7dc8"/><rect x="1058.2" y="2329.1" width="49" height="9.5" fill="#c0700a"/><rect x="1107.9" y="2329.1" width="201.5" height="9.5" fill="#0a7dc8"/><rect x="1309.8" y="2329.1" width="98.9" height="9.5" fill="#c0700a"/><rect x="1411.1" y="2329.1" width="98.5" height="9.5" fill="#0a7dc8"/><rect x="1512" y="2329.1" width="49" height="9.5" fill="#c0700a"/><rect x="1561.7" y="2329.1" width="49" height="9.5" fill="#0a7dc8"/><rect x="1612.9" y="2329.1" width="98.9" height="9.5" fill="#c0700a"/><rect x="1714.1" y="2329.1" width="49" height="9.5" fill="#0a7dc8"/><rect x="1763.7" y="2329.1" width="98.7" height="9.5" fill="#c0700a"/><rect x="1864.9" y="2329.1" width="49" height="9.5" fill="#0a7dc8"/><rect x="1914.3" y="2329.1" width="150.3" height="9.5" fill="#c0700a"/><rect x="2066.9" y="2329.1" width="199.6" height="9.5" fill="#0a7dc8"/><rect x="2267.1" y="2329.1" width="49" height="9.5" fill="#c0700a"/><rect x="2318.6" y="2329.1" width="49" height="9.5" fill="#0a7dc8"/><rect x="2368" y="2329.1" width="100.5" height="9.5" fill="#c0700a"/><rect x="2469.2" y="2329.1" width="49" height="9.5" fill="#0a7dc8"/><rect x="2520.7" y="2329.1" width="98.5" height="9.5" fill="#c0700a"/><rect x="2621.9" y="2329.1" width="98.3" height="9.5" fill="#0a7dc8"/><rect x="2720.9" y="2329.1" width="100.4" height="9.5" fill="#c0700a"/><rect x="2822" y="2329.1" width="201.5" height="9.5" fill="#0a7dc8"/><rect x="3024.2" y="2329.1" width="100.4" height="9.5" fill="#c0700a"/><rect x="3125" y="2329.1" width="49" height="9.5" fill="#0a7dc8"/><rect x="3174.3" y="2329.1" width="25.7" height="9.5" fill="#c0700a"/>
</svg>
</body></html>
